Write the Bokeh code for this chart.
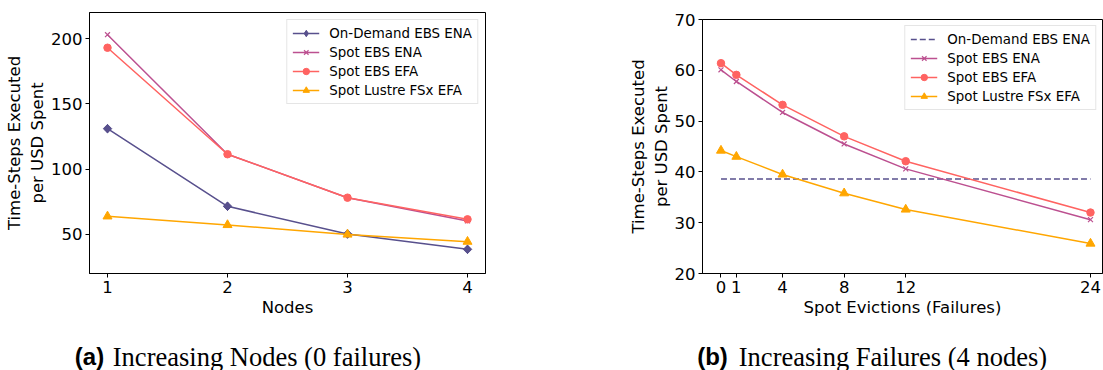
from bokeh.plotting import figure
from bokeh.layouts import row, column
from bokeh.models import Range1d, FixedTicker, Legend, LegendItem, Spacer
from bokeh.core.properties import value
from bokeh.embed import file_html
from bokeh.resources import INLINE

# ---------------- data ----------------
nodes = [1, 2, 3, 4]
ondemand_nodes = [131, 71.5, 50.3, 38.5]
spot_ena_nodes = [203, 111.4, 78.1, 60.3]
spot_efa_nodes = [193, 111.4, 78.1, 61.5]
lustre_nodes = [63.8, 57.2, 49.9, 44.4]

failures = [0, 1, 4, 8, 12, 24]
ondemand_fail = [38.6, 38.6, 38.6, 38.6, 38.6, 38.6]
spot_ena_fail = [60.1, 57.8, 51.7, 45.5, 40.6, 30.6]
spot_efa_fail = [61.4, 59.1, 53.2, 47.0, 42.1, 32.0]
lustre_fail = [44.2, 43.0, 39.5, 35.8, 32.6, 25.9]

series_names = ["On-Demand EBS ENA", "Spot EBS ENA", "Spot EBS EFA", "Spot Lustre FSx EFA"]
colors = ["#58508d", "#bc5090", "#ff6361", "#ffa600"]

nodes_ticks = [1, 2, 3, 4]
nodes_yticks = [50, 100, 150, 200]
fail_ticks = [0, 1, 4, 8, 12, 24]
fail_yticks = [20, 30, 40, 50, 60, 70]

caption_tags = ["(a)", "(b)"]
caption_texts = ["Increasing Nodes (0 failures)", "Increasing Failures (4 nodes)"]

FONT = "DejaVu Sans"
TICK_FS = "16.5px"
LAB_FS = "16.5px"


def style(p):
    p.toolbar_location = None
    p.grid.visible = False
    p.outline_line_color = "black"
    p.outline_line_width = 1
    p.background_fill_color = "white"
    p.border_fill_color = "white"
    for ax in (p.xaxis, p.yaxis):
        ax.axis_line_color = "black"
        ax.major_tick_line_color = "black"
        ax.major_tick_out = 4
        ax.major_tick_in = 0
        ax.minor_tick_line_color = None
        ax.major_label_text_font = FONT
        ax.major_label_text_font_size = TICK_FS
        ax.major_label_text_color = "black"
        ax.axis_label_text_font = FONT
        ax.axis_label_text_font_size = LAB_FS
        ax.axis_label_text_font_style = "normal"
        ax.axis_label_text_color = "black"
    p.xaxis.major_label_standoff = 3
    p.xaxis.axis_label_standoff = 2
    p.yaxis.major_label_standoff = 3
    p.yaxis.axis_label_standoff = 1


def make_legend(p, items, margin):
    leg = Legend(items=items, location="top_right")
    leg.label_text_font = FONT
    leg.label_text_font_size = "13.4px"
    leg.label_text_color = "black"
    leg.glyph_width = 27
    leg.glyph_height = 16
    leg.label_height = 16
    leg.label_standoff = 10
    leg.spacing = 3
    leg.padding = 5
    leg.margin = margin
    leg.border_line_color = "#cccccc"
    leg.border_line_width = 1
    leg.background_fill_alpha = 0.9
    p.add_layout(leg, "center")


def add_series(p, xs, ys, col, mk, sz):
    l = p.line(xs, ys, line_color=col, line_width=1.5)
    if mk == "x":
        s = p.scatter(xs, ys, marker="x", size=sz, line_color=col, line_width=1.2)
        return [l, s]
    if mk == "diamond":
        # key glyph for the legend, fully covered by the rotated square below
        k = p.scatter(xs, ys, marker="diamond", size=8.4, fill_color=col, line_color=col)
        p.scatter(xs, ys, marker="square", angle=0.785398, size=sz,
                  fill_color=col, line_color=col)
        return [l, k]
    s = p.scatter(xs, ys, marker=mk, size=sz, fill_color=col, line_color=col)
    return [l, s]


# ---------------- (a) nodes ----------------
p1 = figure(width=592, height=330, min_border_left=89, min_border_right=107,
            min_border_top=12, min_border_bottom=57,
            x_range=Range1d(0.85, 4.15), y_range=Range1d(20, 220),
            output_backend="svg", toolbar_location=None)
style(p1)
p1.xaxis.ticker = FixedTicker(ticks=nodes_ticks)
p1.yaxis.ticker = FixedTicker(ticks=nodes_yticks)
p1.xaxis.axis_label = "Nodes"
p1.yaxis.axis_label = "Time-Steps Executed\nper USD Spent"

items1 = []
for name, ys, col, mk, sz in [
    (series_names[0], ondemand_nodes, colors[0], "diamond", 6),
    (series_names[1], spot_ena_nodes, colors[1], "x", 7),
    (series_names[2], spot_efa_nodes, colors[2], "circle", 7.5),
    (series_names[3], lustre_nodes, colors[3], "triangle", 9),
]:
    items1.append(LegendItem(label=name, renderers=add_series(p1, nodes, ys, col, mk, sz)))
make_legend(p1, items1, 7)

# ---------------- (b) failures ----------------
p2 = figure(width=511, height=323, min_border_left=110, min_border_right=1,
            min_border_top=12, min_border_bottom=57,
            x_range=Range1d(-1.2, 24.78), y_range=Range1d(20, 70),
            output_backend="svg", toolbar_location=None)
style(p2)
p2.xaxis.ticker = FixedTicker(ticks=fail_ticks)
p2.yaxis.ticker = FixedTicker(ticks=fail_yticks)
p2.xaxis.axis_label = "Spot Evictions (Failures)"
p2.yaxis.axis_label = "Time-Steps Executed\nper USD Spent"

items2 = []
l0 = p2.line(failures, ondemand_fail, line_color=colors[0], line_width=1.5, line_dash="6 3")
items2.append(LegendItem(label=series_names[0], renderers=[l0]))
for name, ys, col, mk, sz in [
    (series_names[1], spot_ena_fail, colors[1], "x", 7),
    (series_names[2], spot_efa_fail, colors[2], "circle", 7.5),
    (series_names[3], lustre_fail, colors[3], "triangle", 9),
]:
    items2.append(LegendItem(label=name, renderers=add_series(p2, failures, ys, col, mk, sz)))
make_legend(p2, items2, 6)

# ---------------- captions ----------------
cap = figure(width=1103, height=40, x_range=Range1d(0, 1103), y_range=Range1d(0, 40),
             min_border=0, x_axis_type=None, y_axis_type=None,
             output_backend="svg", toolbar_location=None)
cap.grid.visible = False
cap.outline_line_color = None
cap.background_fill_color = "white"
cap.border_fill_color = "white"
cap.text(x=[74.3, 696.7], y=[14, 14], text=caption_tags,
         text_font=value("Liberation Sans"), text_font_style="bold",
         text_font_size="24px", text_color="black",
         text_align="left", text_baseline="middle")
cap.text(x=[112.3, 738.3], y=[14, 14], text=caption_texts,
         text_font=value("Liberation Serif"), text_font_size="26.5px", text_color="black",
         text_align="left", text_baseline="middle")

layout = column(row(p1, column(Spacer(width=511, height=7), p2)), cap)
open("out.html", "w").write(file_html(layout, INLINE))
